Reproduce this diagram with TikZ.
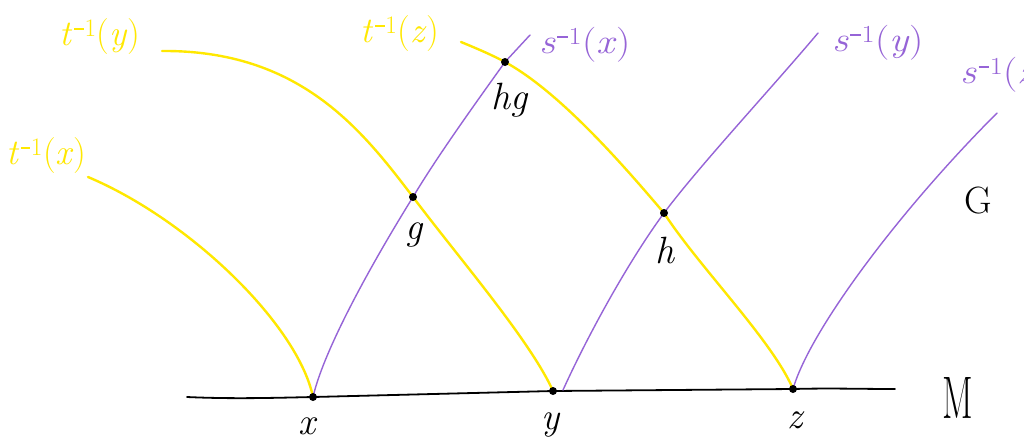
\documentclass[tikz,border=0pt]{standalone}
\newcommand{\myinv}[2]{\textit{#1}\textsuperscript{\kern1.5pt\rule[0.28em]{0.38em}{0.08em}\kern0.5pt1}(\textit{#2})}
\begin{document}
\begin{tikzpicture}[x=1pt,y=-1pt,
  yel/.style={draw={rgb,255:red,255;green,232;blue,0},line width=2.4pt,line cap=round,line join=round},
  pur/.style={draw={rgb,255:red,150;green,100;blue,215},line width=1.4pt,line cap=round,line join=round},
  base/.style={draw=black,line width=1.8pt,line cap=round,line join=round},
  dot/.style={circle,fill=black,inner sep=0pt,minimum size=8pt},
  ylab/.style={text={rgb,255:red,255;green,232;blue,0},font=\fontsize{36}{40}\selectfont,inner sep=0pt},
  plab/.style={text={rgb,255:red,150;green,100;blue,215},font=\fontsize{35}{38}\selectfont,inner sep=0pt,xscale=1.15},
  blab/.style={text=black,font=\fontsize{38}{42}\selectfont\itshape,inner sep=0pt},
  biglab/.style={text=black,inner sep=0pt}]
\useasboundingbox (0,0) rectangle (1024,442);
\clip (0,0) rectangle (1024,442);
\fill[white] (0,0) rectangle (1024,442);
% points
\coordinate (x) at (313,397);
\coordinate (y) at (553,391);
\coordinate (z) at (793,389);
\coordinate (g) at (413,197);
\coordinate (h) at (664,213);
\coordinate (hg) at (505,62);
\coordinate (ml) at (187,397);
\coordinate (mr) at (895,389);
\coordinate (tx0) at (88,177);
\coordinate (ty0) at (162,51);
\coordinate (tz0) at (461,42);
\coordinate (sx1) at (530,35);
\coordinate (sy0) at (563,390);
\coordinate (sy1) at (818,33);
\coordinate (sz1) at (997,113);
% base line M
\draw[base] (ml) .. controls (230,399) and (270,398) .. (x) -- (y) -- (z) .. controls (830,388) and (860,389) .. (mr);
% yellow curves
\draw[yel] (tx0) .. controls (190,220) and (298,325) .. (x);
\draw[yel] (ty0) .. controls (300,50) and (362,130) .. (g) .. controls (458,257) and (530,340) .. (y);
\draw[yel] (tz0) .. controls (478,49) and (492,55) .. (hg) .. controls (560,92) and (624,166) .. (h) .. controls (699,267) and (772,340) .. (z);
% purple curves
\draw[pur] (x) .. controls (325,345) and (380,250) .. (g) .. controls (438,155) and (480,97) .. (hg) -- (sx1);
\draw[pur] (sy0) .. controls (588,335) and (628,262) .. (h) .. controls (700,165) and (770,90) .. (sy1);
\draw[pur] (z) .. controls (810,330) and (900,210) .. (sz1);
% dots
\node[dot] (dx) at (x) {};
\node[dot] (dy) at (y) {};
\node[dot] (dz) at (z) {};
\node[dot] (dg) at (g) {};
\node[dot] (dh) at (h) {};
\node[dot] (dhg) at (hg) {};
% labels
\node[ylab,anchor=west] (ltx) at (6,156) {\myinv{t}{x}};
\node[ylab] (lty) at (100,37) {\myinv{t}{y}};
\node[ylab] (ltz) at (400,34) {\myinv{t}{z}};
\node[plab] (lsx) at (585,45) {\myinv{s}{x}};
\node[plab] (lsy) at (878,43) {\myinv{s}{y}};
\node[plab,anchor=west] (lsz) at (960,75) {\myinv{s}{z}};
\node[blab] (lg) at (414,235) {g};
\node[blab] (lhg) at (510,100) {hg};
\node[blab] (lh) at (665,250) {h};
\node[blab] (lx) at (307,426) {x};
\node[blab] (ly) at (551,425) {y};
\node[blab] (lz) at (795,420) {z};
\node[biglab,font=\fontsize{38}{42}\selectfont] (lG) at (978,201) {G};
\node[biglab,font=\fontsize{60}{64}\selectfont,xscale=0.6] (lM) at (958,398) {M};
\end{tikzpicture}
\end{document}
